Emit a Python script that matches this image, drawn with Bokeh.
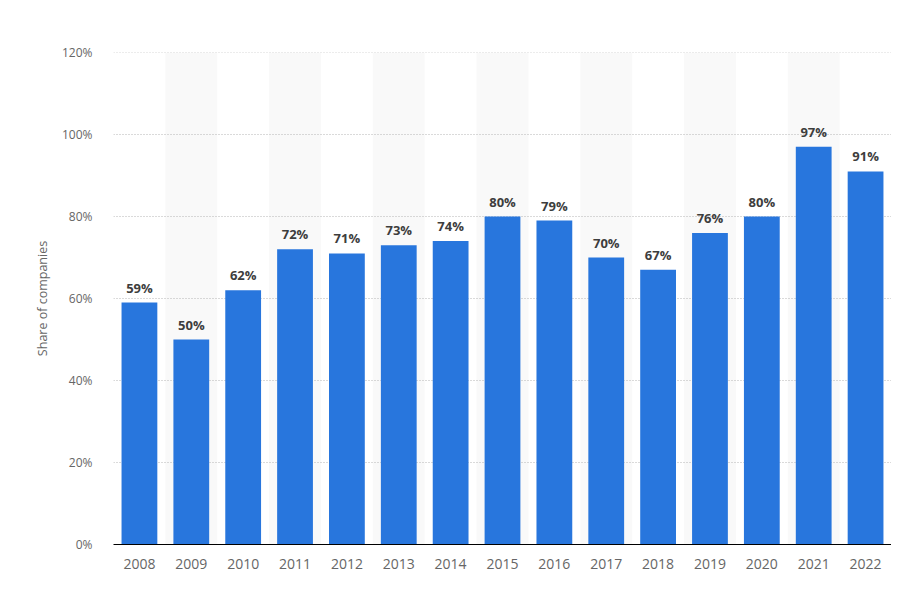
from bokeh.plotting import figure
from bokeh.models import FactorRange, Range1d, ColumnDataSource, CustomJSTickFormatter, Span
from bokeh.core.properties import value
from bokeh.embed import file_html
from bokeh.resources import INLINE

years = ["2008", "2009", "2010", "2011", "2012", "2013", "2014", "2015",
         "2016", "2017", "2018", "2019", "2020", "2021", "2022"]
shares = [59, 50, 62, 72, 71, 73, 74, 80, 79, 70, 67, 76, 80, 97, 91]
y_ticks = [0, 20, 40, 60, 80, 100, 120]
band_years = years[1::2]
band_top = [120] * len(band_years)

FONT = "Open Sans"
GRID_COLOR = "#b4b4b4"

p = figure(width=891, height=573, x_range=FactorRange(*years, range_padding=0),
           y_range=Range1d(0, 120), output_backend="svg", toolbar_location=None,
           min_border_left=113, min_border_right=0, min_border_top=52, min_border_bottom=29)
p.outline_line_color = None
p.background_fill_color = "white"

# alternating background bands
p.vbar(x=band_years, top=band_top, bottom=0, width=1.0, fill_color="#f9f9f9",
       line_color=None, level="image")

src = ColumnDataSource(dict(x=years, top=shares, label=[f"{v}%" for v in shares]))
p.vbar(x="x", top="top", width=0.69, source=src, fill_color="#2876dd", line_color=None)
p.text(x="x", y="top", text="label", source=src, text_align="center",
       text_baseline="bottom", y_offset=-6, text_font_size="13px",
       text_font_style="bold", text_color="#3d3d3d", text_font=value(FONT))

p.xgrid.grid_line_color = None
p.ygrid.grid_line_color = GRID_COLOR
p.ygrid.grid_line_dash = "1 2"
p.ygrid.grid_line_width = 1
# top gridline at the range end
p.add_layout(Span(location=y_ticks[-1], dimension="width", line_color=GRID_COLOR,
                  line_dash="1 2", line_width=1, level="underlay"))

p.yaxis.ticker = y_ticks
p.yaxis.formatter = CustomJSTickFormatter(code="return tick + '%';")

p.yaxis.axis_line_color = None
p.yaxis.major_tick_line_color = None
p.yaxis.minor_tick_line_color = None
p.yaxis.major_label_standoff = 15
p.yaxis.major_label_text_font = FONT
p.yaxis.major_label_text_font_size = "12px"
p.yaxis.major_label_text_color = "#666666"
p.yaxis.axis_label = "Share of companies"
p.yaxis.axis_label_text_font = FONT
p.yaxis.axis_label_text_font_size = "12.5px"
p.yaxis.axis_label_text_font_style = "normal"
p.yaxis.axis_label_text_color = "#666666"
p.yaxis.axis_label_standoff = 8

p.xaxis.axis_line_color = "#000000"
p.xaxis.axis_line_width = 1
p.xaxis.major_tick_line_color = None
p.xaxis.minor_tick_line_color = None
p.xaxis.major_label_standoff = 8
p.xaxis.major_label_text_font = FONT
p.xaxis.major_label_text_font_size = "14px"
p.xaxis.major_label_text_color = "#666666"

open("out.html", "w").write(file_html(p, INLINE))
